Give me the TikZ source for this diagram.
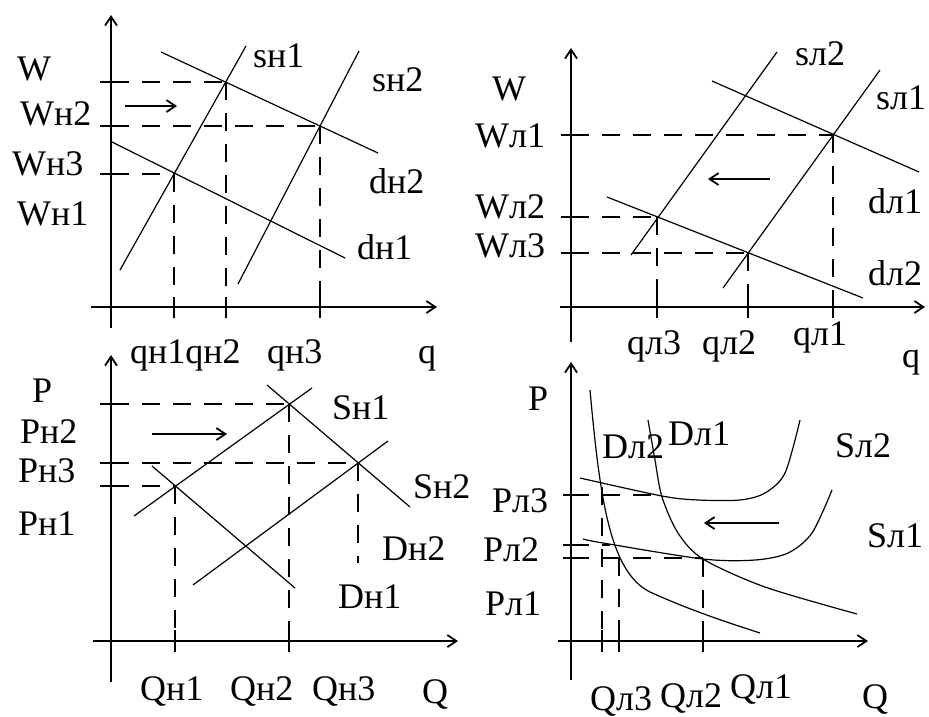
\documentclass[tikz,border=0pt]{standalone}
\usepackage{fontspec}
\setmainfont{Liberation Serif}
\usetikzlibrary{arrows.meta}

\tikzset{
  axis/.style={line width=1.8pt,-{Straight Barb[length=9pt,width=12pt]}},
  curve/.style={line width=1.2pt},
  guide/.style={line width=1.4pt,dash pattern=on 18pt off 13pt},
  tickmark/.style={line width=1.4pt},
  movearrow/.style={line width=1.8pt,-{Straight Barb[length=9pt,width=12pt]}},
  lbl/.style={inner sep=0pt,anchor=base west,font=\fontsize{36}{40}\selectfont},
}

\begin{document}
\begin{tikzpicture}[x=1pt,y=-1pt]
  \useasboundingbox (0,0) rectangle (929,716);
  % 左上：W-q（н）
  \draw[axis] (111,328) -- (111,15); % 縦軸
  \draw[axis] (91,307) -- (437,307); % 横軸
  \foreach \y in {82,126,174} \draw[tickmark] (100,\y) -- (122,\y); % 縦軸の目盛り
  \foreach \x in {174,226,320} \draw[tickmark] (\x,297) -- (\x,318); % 横軸の目盛り
  \draw[guide] (111,82) -- (226,82); % Wの水準
  \draw[guide] (111,126) -- (320,126); % Wн2の水準
  \draw[guide] (111,174) -- (174,174); % Wн3の水準
  \draw[guide] (174,174) -- (174,307); % qн1
  \draw[guide] (226,82) -- (226,307); % qн2
  \draw[guide] (320,126) -- (320,307); % qн3
  \draw[curve] (120,270) -- (246,46); % sн1
  \draw[curve] (238,284) -- (359,51); % sн2
  \draw[curve] (161,52) -- (378,153); % dн2
  \draw[curve] (112,142) -- (345,258); % dн1
  \draw[movearrow] (125,106) -- (177,106); % 右への移動
  \node[lbl] (wa) at (17,80) {W};
  \node[lbl] (wn2) at (20,125) {Wн2};
  \node[lbl] (wn3) at (12,175) {Wн3};
  \node[lbl] (wn1) at (17,225) {Wн1};
  \node[lbl] (sn1) at (253,67) {sн1};
  \node[lbl] (sn2) at (372,91) {sн2};
  \node[lbl] (dn2) at (369,193) {dн2};
  \node[lbl] (dn1) at (357,259) {dн1};
  \node[lbl] (qn12) at (130,363) {qн1qн2};
  \node[lbl] (qn3) at (267,363) {qн3};
  \node[lbl] (qa) at (418,363) {q};

  % 右上：W-q（л）
  \draw[axis] (571,342) -- (571,48); % 縦軸
  \draw[axis] (560,307) -- (925,307); % 横軸
  \foreach \y in {135,217,253} \draw[tickmark] (561,\y) -- (581,\y); % 縦軸の目盛り
  \foreach \x in {657,748,833} \draw[tickmark] (\x,297) -- (\x,318); % 横軸の目盛り
  \draw[guide] (571,135) -- (833,135); % Wл1の水準
  \draw[guide] (571,217) -- (657,217); % Wл2の水準
  \draw[guide] (571,253) -- (748,253); % Wл3の水準
  \draw[guide] (657,217) -- (657,307); % qл3
  \draw[guide] (748,253) -- (748,307); % qл2
  \draw[guide] (833,135) -- (833,307); % qл1
  \draw[curve] (631,255) -- (777,52); % sл2
  \draw[curve] (723,288) -- (880,70); % sл1
  \draw[curve] (712,81) -- (919,172); % dл1
  \draw[curve] (607,197) -- (863,298); % dл2
  \draw[movearrow] (770,179) -- (708,179); % 左への移動
  \node[lbl] (wb) at (492,100) {W};
  \node[lbl] (wl1) at (475,147) {Wл1};
  \node[lbl] (wl2) at (475,218) {Wл2};
  \node[lbl] (wl3) at (475,257) {Wл3};
  \node[lbl] (sl2) at (795,65) {sл2};
  \node[lbl] (sl1) at (876,109) {sл1};
  \node[lbl] (dl1) at (868,213) {dл1};
  \node[lbl] (dl2) at (868,285) {dл2};
  \node[lbl] (ql3) at (627,354) {qл3};
  \node[lbl] (ql2) at (702,354) {qл2};
  \node[lbl] (ql1) at (793,345) {qл1};
  \node[lbl] (qb) at (902,367) {q};

  % 左下：P-Q（н）
  \draw[axis] (111,682) -- (111,355); % 縦軸
  \draw[axis] (93,641) -- (458,641); % 横軸
  \foreach \y in {404,463,486} \draw[tickmark] (100,\y) -- (122,\y); % 縦軸の目盛り
  \foreach \x in {175,289} \draw[tickmark] (\x,630) -- (\x,652); % 横軸の目盛り
  \draw[guide] (111,404) -- (289,404); % Pн2の水準
  \draw[guide] (111,463) -- (358,463); % Pн3の水準
  \draw[guide] (111,486) -- (175,486); % Pн1の水準
  \draw[guide] (175,486) -- (175,641); % Qн1
  \draw[guide] (289,404) -- (289,641); % Qн2
  \draw[guide] (358,463) -- (358,563); % Qн3
  \draw[curve] (134,516) -- (312,388); % Sн1
  \draw[curve] (193,585) -- (388,441); % Sн2
  \draw[curve] (267,385) -- (410,507); % Dн2
  \draw[curve] (152,466) -- (295,588); % Dн1
  \draw[movearrow] (152,434) -- (227,434); % 右への移動
  \node[lbl] (pa) at (32,402) {P};
  \node[lbl] (pn2) at (20,443) {Pн2};
  \node[lbl] (pn3) at (18,482) {Pн3};
  \node[lbl] (pn1) at (18,535) {Pн1};
  \node[lbl] (bsn1) at (332,419) {Sн1};
  \node[lbl] (bsn2) at (413,498) {Sн2};
  \node[lbl] (bdn2) at (382,560) {Dн2};
  \node[lbl] (bdn1) at (338,608) {Dн1};
  \node[lbl] (qqn1) at (140,700) {Qн1};
  \node[lbl] (qqn2) at (230,700) {Qн2};
  \node[lbl] (qqn3) at (312,700) {Qн3};
  \node[lbl] (qqa) at (422,703) {Q};

  % 右下：P-Q（л）
  \draw[axis] (571,680) -- (571,362); % 縦軸
  \draw[axis] (558,641) -- (868,641); % 横軸
  \foreach \y in {495,545,558} \draw[tickmark] (563,\y) -- (580,\y); % 縦軸の目盛り
  \foreach \x in {602,619,703} \draw[tickmark] (\x,630) -- (\x,652); % 横軸の目盛り
  \draw[guide] (571,495) -- (662,495); % Pл3の水準
  \draw[guide] (571,545) -- (610,545); % Pл2の水準
  \draw[guide] (571,558) -- (703,558); % Pл1の水準
  \draw[guide] (602,487) -- (602,641); % Qл3
  \draw[guide] (619,558) -- (619,641); % Qл2
  \draw[guide] (703,559) -- (703,641); % Qл1
  \draw[curve] (590,390) .. controls (600,500) and (610,572) .. (650,592) .. controls (690,610) and (720,620) .. (760,633); % Dл2
  \draw[curve] plot[smooth] coordinates {(648,420) (655,460) (662,497) (678,533) (703,559) (765,587) (857,614)}; % Dл1
  \draw[curve] plot[smooth] coordinates {(580,478) (662,496) (698,500) (740,500) (765,493) (785,473) (800,420)}; % Sл2
  \draw[curve] plot[smooth] coordinates {(583,539) (603,543) (703,559) (755,560) (788,553) (812,533) (832,490)}; % Sл1
  \draw[movearrow] (779,523) -- (704,523); % 左への移動
  \node[lbl] (pb) at (528,410) {P};
  \node[lbl] (pl3) at (492,512) {Pл3};
  \node[lbl] (pl2) at (483,561) {Pл2};
  \node[lbl] (pl1) at (485,615) {Pл1};
  \node[lbl] (dl2b) at (602,458) {Dл2};
  \node[lbl] (dl1b) at (668,445) {Dл1};
  \node[lbl] (sl2b) at (835,457) {Sл2};
  \node[lbl] (sl1b) at (867,547) {Sл1};
  \node[lbl] (qql3) at (590,710) {Qл3};
  \node[lbl] (qql2) at (660,707) {Qл2};
  \node[lbl] (qql1) at (730,698) {Qл1};
  \node[lbl] (qqb) at (862,708) {Q};
\end{tikzpicture}
\end{document}
